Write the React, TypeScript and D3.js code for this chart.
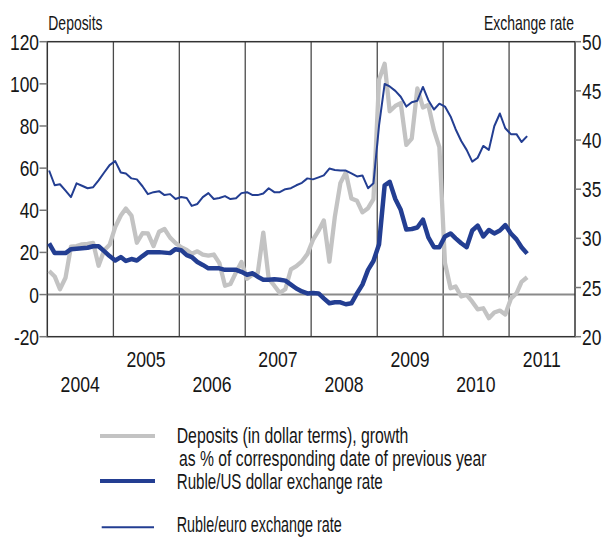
import React from "react";
import * as d3 from "d3";

// ---------- data ----------
const months: Date[] = d3.timeMonth.range(new Date(2004, 0, 1), new Date(2011, 4, 1)); // Jan 2004 .. Apr 2011

const deposits = [
  11.2, 8.6, 2.5, 8.0, 22.7, 23.0, 23.8, 24.0, 24.5, 13.7, 21.0, 23.6,
  32.0, 37.5, 40.8, 37.5, 24.6, 29.1, 29.0, 23.0, 29.8, 31.1, 27.0, 24.5,
  22.5, 21.2, 19.4, 20.5, 19.0, 18.5, 19.0, 14.9, 4.2, 5.0, 10.5, 15.5,
  7.5, 9.5, 10.0, 29.4, 7.5, 4.2, 0.8, 2.5, 12.0, 13.5, 15.8, 19.2,
  25.9, 30.3, 35.2, 15.6, 36.8, 53.0, 57.9, 45.6, 44.5, 39.0, 41.0, 45.3,
  102.0, 109.5, 87.0, 89.5, 90.9, 71.0, 74.0, 97.8, 88.8, 90.0, 78.0, 70.0,
  15.0, 3.0, 3.8, -0.9, -0.2, -3.4, -7.0, -6.5, -11.2, -8.5, -7.6, -9.5,
  -2.0, 0.6, 6.0, 8.2,
];

const rubleUsd = [
  29.5, 28.5, 28.5, 28.5, 28.9, 28.95, 29.0, 29.05, 29.2, 29.2, 28.7, 28.2,
  27.75, 28.1, 27.7, 27.9, 27.75, 28.2, 28.6, 28.6, 28.6, 28.55, 28.5, 28.9,
  28.8, 28.3, 28.1, 27.6, 27.3, 26.95, 26.95, 26.95, 26.8, 26.8, 26.8, 26.6,
  26.3, 26.45, 26.1, 25.8, 25.8, 25.85, 25.8, 25.7, 25.3, 24.9, 24.6, 24.4,
  24.45, 24.4, 23.9, 23.4, 23.5, 23.5, 23.3, 23.4, 24.4, 25.3, 26.8, 27.7,
  29.4, 35.4, 35.75, 34.0, 32.9, 30.9, 30.95, 31.1, 31.9, 30.1, 29.1, 29.1,
  30.2, 30.5, 30.0, 29.5, 29.1, 30.8, 31.3, 30.2, 30.85, 30.5, 30.8, 31.35,
  30.5, 29.9, 29.1, 28.45,
];

const rubleEuro = [
  36.9, 35.4, 35.5, 34.85, 34.2, 35.6, 35.35, 35.1, 35.2, 35.9, 36.7, 37.45,
  37.86, 36.7, 36.6, 36.1, 36.0, 35.3, 34.5, 34.7, 34.8, 34.4, 34.5, 34.0,
  34.2, 34.1, 33.3, 33.5, 34.2, 34.6, 34.0, 34.1, 34.3, 34.0, 34.07, 34.6,
  34.7, 34.4, 34.4, 34.57, 35.1, 34.7, 34.7, 35.0, 35.1, 35.4, 35.65, 36.1,
  36.0, 36.2, 36.4, 37.1, 36.95, 36.9, 36.9, 36.6, 36.3, 36.4, 35.1, 35.6,
  41.5, 45.7, 45.45, 45.0, 44.4, 43.4, 43.85, 44.0, 45.4, 44.05, 43.1, 43.7,
  43.4, 42.4, 41.1, 39.9, 39.0, 37.8, 38.2, 39.4, 39.0, 41.4, 42.7, 41.2,
  40.6, 40.6, 39.8, 40.4,
];

const leftTicks = [-20, 0, 20, 40, 60, 80, 100, 120];
const rightTicks = [20, 25, 30, 35, 40, 45, 50];
const yearLabels = [2004, 2005, 2006, 2007, 2008, 2009, 2010, 2011];
const gridYears = [2005, 2006, 2007, 2008, 2009, 2010, 2011];

const leftTitle = "Deposits";
const rightTitle = "Exchange rate";
const legendLabels = [
  "Deposits (in dollar terms), growth",
  "as % of corresponding date of previous year",
  "Ruble/US dollar exchange rate",
  "Ruble/euro exchange rate",
];

// ---------- layout ----------
const W = 603;
const H = 537;
const L = 47.3, R = 575, T = 41.7, B = 336.7;
const FONT = "'Liberation Sans', Arial, sans-serif";
const INK = "#161616";
const GRAY = "#c3c3c3";
const BLUE = "#233e92";

const x = d3.scaleTime().domain([new Date(2004, 0, 1), new Date(2012, 0, 1)]).range([L, R]);
const yL = d3.scaleLinear().domain([-20, 120]).range([B, T]);
const yR = d3.scaleLinear().domain([20, 50]).range([B, T]);
const px = (d: Date) => x(d3.timeDay.offset(d, 10));

const lineL = d3.line<number>().x((_, i) => px(months[i])).y((v) => yL(v));
const lineR = d3.line<number>().x((_, i) => px(months[i])).y((v) => yR(v));

// condensed text: regular face squeezed horizontally
function CText({ tx, ty, sx, size, anchor = "start", children }: any) {
  return (
    <text
      transform={`translate(${tx},${ty}) scale(${sx},1)`}
      textAnchor={anchor}
      fontSize={size}
      fontFamily={FONT}
      fill={INK}
    >
      {children}
    </text>
  );
}

export default function App() {
  return (
    <svg
      width={W}
      height={H}
      viewBox={`0 0 ${W} ${H}`}
      style={{ position: "absolute", left: 0, top: 0, background: "#fff" }}
    >
      <rect x={0} y={0} width={W} height={H} fill="#fff" />

      {/* axis titles */}
      <CText tx={48.3} ty={30} sx={0.716} size={19.5}>{leftTitle}</CText>
      <CText tx={484} ty={30} sx={0.716} size={19.5}>{rightTitle}</CText>

      {/* vertical year gridlines */}
      {gridYears.map((yr) => (
        <line key={yr} x1={x(new Date(yr, 0, 1))} x2={x(new Date(yr, 0, 1))} y1={T} y2={B}
          stroke="#4a4a4a" strokeWidth={1.3} />
      ))}

      {/* zero line */}
      <line x1={L} x2={R} y1={yL(0)} y2={yL(0)} stroke="#8a8a8a" strokeWidth={2} />

      {/* frame */}
      <rect x={L} y={T} width={R - L} height={B - T} fill="none" stroke="#333" strokeWidth={1.5} />

      {/* left ticks */}
      {leftTicks.map((v) => (
        <g key={"l" + v}>
          <line x1={39.5} x2={L} y1={yL(v)} y2={yL(v)} stroke="#777" strokeWidth={1.5} />
          <CText tx={39} ty={yL(v) + 8} sx={0.79} size={22} anchor="end">{String(v)}</CText>
        </g>
      ))}

      {/* right ticks */}
      {rightTicks.map((v) => (
        <g key={"r" + v}>
          <line x1={R} x2={581} y1={yR(v)} y2={yR(v)} stroke="#777" strokeWidth={1.5} />
          <CText tx={582} ty={yR(v) + 8} sx={0.79} size={22}>{String(v)}</CText>
        </g>
      ))}

      {/* year labels */}
      {yearLabels.map((yr, i) => (
        <CText key={yr} tx={x(new Date(yr, 6, 1))} ty={i % 2 === 1 ? 367 : 392}
          sx={0.8} size={22} anchor="middle">
          {String(yr)}
        </CText>
      ))}

      {/* series */}
      <path d={lineL(deposits) || ""} fill="none" stroke={GRAY} strokeWidth={4.3} strokeLinejoin="round" />
      <path d={lineR(rubleUsd) || ""} fill="none" stroke={BLUE} strokeWidth={4.5} strokeLinejoin="round" />
      <path d={lineR(rubleEuro) || ""} fill="none" stroke={BLUE} strokeWidth={2} strokeLinejoin="round" />

      {/* legend */}
      <line x1={100} x2={155} y1={436} y2={436} stroke={GRAY} strokeWidth={4} />
      <CText tx={176.7} ty={443} sx={0.718} size={22}>{legendLabels[0]}</CText>
      <CText tx={179} ty={466} sx={0.715} size={22}>{legendLabels[1]}</CText>

      <line x1={100} x2={155} y1={481} y2={481} stroke={BLUE} strokeWidth={4} />
      <CText tx={176.7} ty={489} sx={0.688} size={22}>{legendLabels[2]}</CText>

      <line x1={101.7} x2={154} y1={527.3} y2={527.3} stroke={BLUE} strokeWidth={2} />
      <CText tx={176.7} ty={532.3} sx={0.652} size={22}>{legendLabels[3]}</CText>
    </svg>
  );
}
